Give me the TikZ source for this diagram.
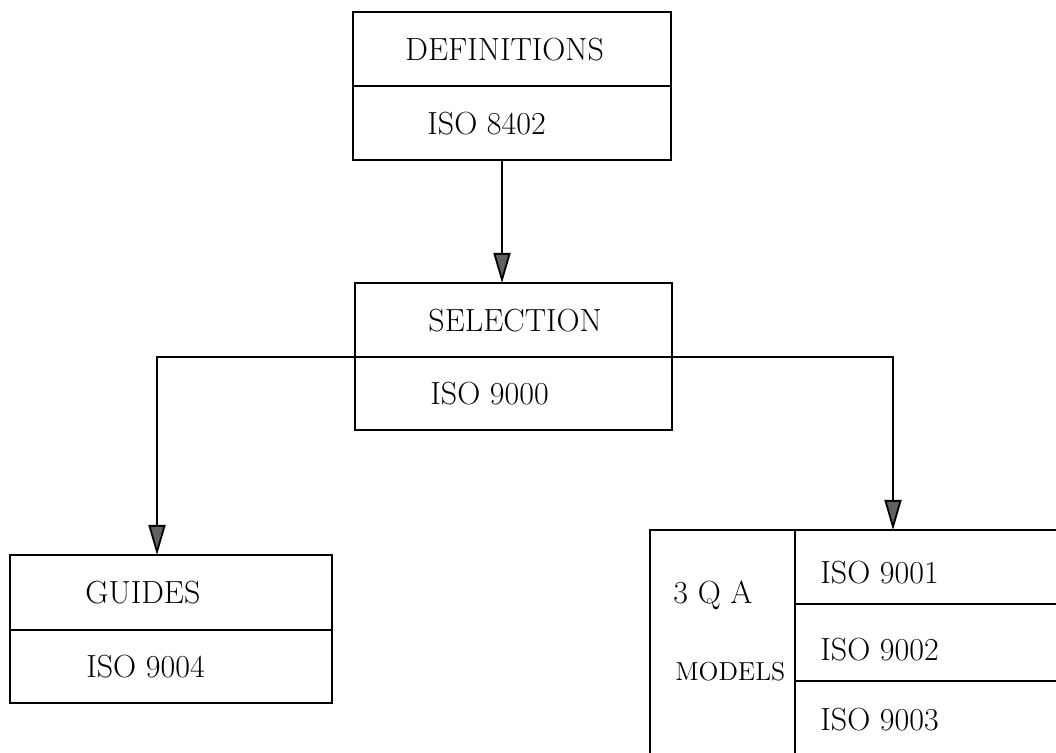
\documentclass[tikz,border=0pt]{standalone}
\usetikzlibrary{arrows.meta}
\begin{document}
\begin{tikzpicture}[x=0.5pt,y=-0.5pt,
  box/.style={draw, line width=0.9pt, inner sep=0pt, outer sep=0pt},
  lbl/.style={inner sep=0pt, anchor=west, font=\fontsize{16}{19}\selectfont},
  smalllbl/.style={inner sep=0pt, anchor=west, font=\fontsize{13}{15}\selectfont},
  arr/.style={draw, line width=0.9pt, -{Triangle[width=8.5pt,length=15pt,fill=black!62]}}]
\useasboundingbox (0,0) rectangle (1056,753);
\clip (0,0) rectangle (1056,753);
% DEFINITIONS box
\node[box, minimum width=159pt, minimum height=37pt] (defT) at (512,49) {};
\node[box, minimum width=159pt, minimum height=37pt] (defB) at (512,123) {};
\node[lbl] (tDef) at (405,50) {DEFINITIONS};
\node[lbl] (tDefIso) at (427,124) {ISO 8402};
% SELECTION box
\node[box, minimum width=158.5pt, minimum height=37pt] (selT) at (513.5,320) {};
\node[box, minimum width=158.5pt, minimum height=36.5pt] (selB) at (513.5,393.5) {};
\node[lbl] (tSel) at (428,321) {SELECTION};
\node[lbl] (tSelIso) at (430,394) {ISO 9000};
% GUIDES box
\node[box, minimum width=161pt, minimum height=37.5pt] (guT) at (171,592.5) {};
\node[box, minimum width=161pt, minimum height=36.5pt] (guB) at (171,666.5) {};
\node[lbl] (tGu) at (85,593) {GUIDES};
\node[lbl] (tGuIso) at (86,667) {ISO 9004};
% 3 QA MODELS box (runs off the page to the right and bottom)
\node[box, minimum width=72.5pt, minimum height=135pt] (qaL) at (722.5,665) {};
\node[box, minimum width=152.5pt, minimum height=37pt] (q1) at (947.5,567) {};
\node[box, minimum width=152.5pt, minimum height=38.5pt] (q2) at (947.5,642.5) {};
\node[box, minimum width=152.5pt, minimum height=59.5pt] (q3) at (947.5,740.5) {};
\node[lbl] (tQa) at (673,595) {3 Q A};
\node[smalllbl] (tModels) at (675,672) {MODELS};
\node[lbl] (t1) at (820,573) {ISO 9001};
\node[lbl] (t2) at (820,650) {ISO 9002};
\node[lbl] (t3) at (820,720) {ISO 9003};
% connectors
\coordinate (dOut) at (502,160);
\coordinate (sIn) at (502,283);
\coordinate (gIn) at (157,555);
\coordinate (qIn) at (893,530);
\draw[arr] (dOut) -- (sIn);
\draw[arr] (selT.south west) -| (gIn);
\draw[arr] (selT.south east) -| (qIn);
\end{tikzpicture}
\end{document}
